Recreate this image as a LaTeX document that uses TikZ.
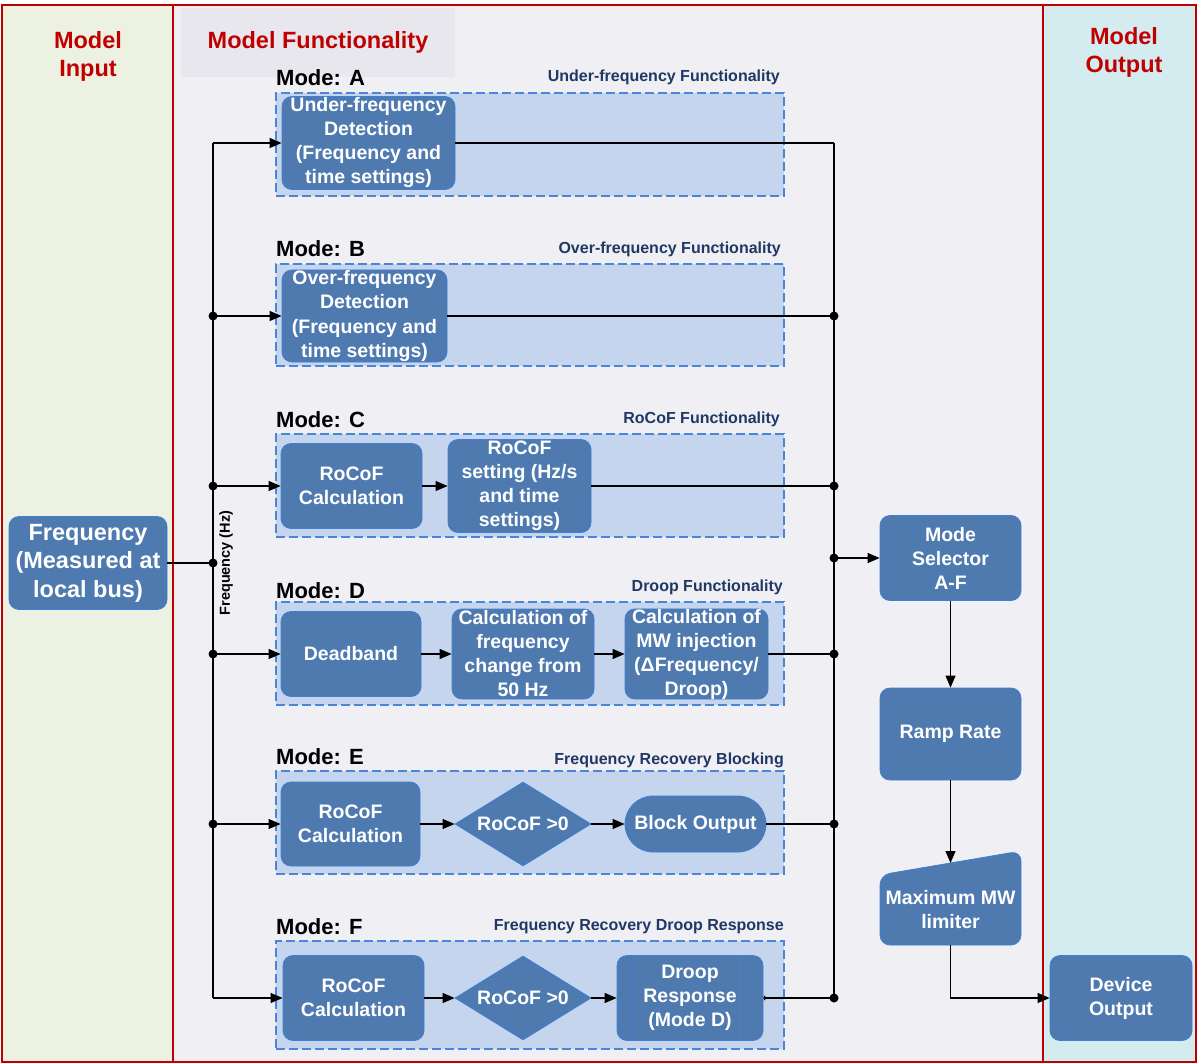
\documentclass[tikz,border=0pt]{standalone}
\usepackage{fontspec}
\setmainfont{Liberation Sans}
\usetikzlibrary{shapes.geometric,arrows.meta}
\definecolor{inbg}{HTML}{EDF1E1}
\definecolor{midbg}{HTML}{F0EFF4}
\definecolor{outbg}{HTML}{D4EBF0}
\definecolor{hdrbg}{HTML}{E8E7ED}
\definecolor{hdrred}{HTML}{C00000}
\definecolor{frame}{HTML}{C00000}
\definecolor{navy}{HTML}{1F3864}
\definecolor{nodefill}{HTML}{4E7AB0}
\definecolor{nodeedge}{HTML}{3F7FD4}
\definecolor{dashblue}{HTML}{4A86D8}
\definecolor{hatch}{HTML}{C6D5EE}
\newcommand\fsz[2]{\fontsize{#1}{#2}\selectfont}
\begin{document}
\begin{tikzpicture}[x=1pt,y=-1pt,
  hdr/.style={text=hdrred, font=\bfseries\fsz{23.5}{28}, align=center, inner sep=0},
  modelbl/.style={font=\bfseries\fsz{22}{26}, inner sep=0, anchor=base west},
  modettl/.style={text=navy, font=\bfseries\fsz{16}{19}, inner sep=0, anchor=base east},
  modebox/.style={draw=dashblue, dash pattern=on 9pt off 4pt, fill=hatch, line width=1.2pt,
    minimum width=508pt, inner sep=0},
  blk/.style={draw=nodeedge, fill=nodefill, rounded corners=10pt, text=white,
    font=\bfseries\fsz{19.5}{24}, align=center, inner sep=0, line width=0.8pt},
  dia/.style={blk, rounded corners=0pt, shape=diamond, shape aspect=1.62,
    minimum width=136pt, minimum height=84pt},
  ln/.style={line width=1.1pt, draw=black},
  arr/.style={ln, -{Triangle[length=12pt,width=10pt]}},
  dot/.style={fill=black},
]
\useasboundingbox (0,0) rectangle (1198,1064);
% backgrounds
\fill[inbg] (2,5) rectangle (173,1062);
\fill[midbg] (173,5) rectangle (1043,1062);
\fill[outbg] (1043,5) rectangle (1196,1062);
\fill[hdrbg] (181,8) rectangle (455,77);
\draw[frame, line width=2pt] (2,5) rectangle (1196,1062);
\draw[frame, line width=2pt] (173,5) -- (173,1062);
\draw[frame, line width=2pt] (1043,5) -- (1043,1062);
% headers
\node[hdr] (hin) at (88,56) {Model\\Input};
\node[hdr] (hfn) at (318,42) {Model Functionality};
\node[hdr] (hout) at (1124,52) {Model\\Output};
% mode boxes
\node[modebox, minimum height=103pt] (mA) at (530,144.5) {};
\node[modebox, minimum height=102pt] (mB) at (530,315) {};
\node[modebox, minimum height=103pt] (mC) at (530,485.5) {};
\node[modebox, minimum height=103pt] (mD) at (530,653.5) {};
\node[modebox, minimum height=103pt] (mE) at (530,822.5) {};
\node[modebox, minimum height=108pt] (mF) at (530,995) {};
% mode labels and titles
\node[modelbl] (lA) at (276,86) {Mode: A};
\node[modettl] (tA) at (780,82) {Under-frequency Functionality};
\node[modelbl] (lB) at (276,257) {Mode: B};
\node[modettl] (tB) at (781,254) {Over-frequency Functionality};
\node[modelbl] (lC) at (276,427) {Mode: C};
\node[modettl] (tC) at (780,423) {RoCoF Functionality};
\node[modelbl] (lD) at (276,598) {Mode: D};
\node[modettl] (tD) at (783,591) {Droop Functionality};
\node[modelbl] (lE) at (276,764) {Mode: E};
\node[modettl] (tE) at (784,764) {Frequency Recovery Blocking};
\node[modelbl] (lF) at (276,934) {Mode: F};
\node[modettl] (tF) at (784,930) {Frequency Recovery Droop Response};
% inner blocks
\node[blk, minimum width=173pt, minimum height=93pt] (A1) at (368.5,143)
  {Under-frequency\\Detection\\(Frequency and\\time settings)};
\node[blk, minimum width=165pt, minimum height=92pt] (B1) at (364.5,316)
  {Over-frequency\\Detection\\(Frequency and\\time settings)};
\node[blk, minimum width=141pt, minimum height=85pt] (C1) at (351.5,486) {RoCoF\\Calculation};
\node[blk, minimum width=143pt, minimum height=93pt] (C2) at (519.5,486)
  {RoCoF\\setting (Hz/s\\and time\\settings)};
\node[blk, minimum width=140pt, minimum height=85pt] (D1) at (351,654) {Deadband};
\node[blk, minimum width=142pt, minimum height=90pt] (D2) at (523,654)
  {Calculation of\\frequency\\change from\\50 Hz};
\node[blk, minimum width=143pt, minimum height=90pt] (D3) at (696.5,654)
  {Calculation of\\MW injection\\(ΔFrequency/\\Droop)};
\node[blk, minimum width=139pt, minimum height=84pt] (E1) at (350.5,824) {RoCoF\\Calculation};
\node[dia] (E2) at (523,824) {RoCoF >0};
\node[blk, rounded corners=28pt, minimum width=141pt, minimum height=56pt] (E3) at (695.5,824) {Block Output};
\node[blk, minimum width=141pt, minimum height=85pt] (F1) at (353.5,998) {RoCoF\\Calculation};
\node[dia] (F2) at (523,998) {RoCoF >0};
\node[blk, minimum width=146pt, minimum height=85pt] (F3) at (690,998) {Droop\\Response\\(Mode D)};
\draw[nodeedge, line width=0.8pt] ([xshift=17pt]F3.north west) -- ([xshift=17pt]F3.south west);
\draw[nodeedge, line width=0.8pt] ([xshift=-23pt]F3.north east) -- ([xshift=-23pt]F3.south east);
% input
\node[blk, font=\bfseries\fsz{23.5}{28.5}, minimum width=158pt, minimum height=93pt] (inp) at (88,563)
  {Frequency\\(Measured at\\local bus)};
\node[rotate=90, font=\bfseries\fsz{14.5}{17}, inner sep=0] (fhz) at (226,563) {Frequency (Hz)};
% right column
\node[blk, minimum width=141pt, minimum height=85pt] (sel) at (950.5,558) {Mode\\Selector\\A-F};
\node[blk, minimum width=141pt, minimum height=92pt] (ramp) at (950.5,734) {Ramp Rate};
\draw[draw=nodeedge, fill=nodefill, line width=0.8pt, rounded corners=10pt]
  (880,875) -- (1021,851) -- (1021,945) -- (880,945) -- cycle;
\node[text=white, font=\bfseries\fsz{19.5}{24}, align=center, inner sep=0] (mw) at (950.5,910) {Maximum MW\\limiter};
\coordinate (mwtop) at (950.5,863);
\coordinate (mwbot) at (950.5,945);
\node[blk, minimum width=142pt, minimum height=85pt] (dev) at (1121,998) {Device\\Output};
% bus coordinates
\coordinate (bA) at (213,143);
\coordinate (bB) at (213,316);
\coordinate (bC) at (213,486);
\coordinate (bI) at (213,563);
\coordinate (bD) at (213,654);
\coordinate (bE) at (213,824);
\coordinate (bF) at (213,998);
\coordinate (rA) at (834,143);
\coordinate (rB) at (834,316);
\coordinate (rC) at (834,486);
\coordinate (rS) at (834,558);
\coordinate (rD) at (834,654);
\coordinate (rE) at (834,824);
\coordinate (rF) at (834,998);
% left bus
\draw[ln] (bA) -- (bF);
\draw[ln] (inp.east |- bI) -- (bI);
\draw[arr] (bA) -- (A1);
\draw[arr] (bB) -- (B1);
\draw[arr] (bC) -- (C1);
\draw[arr] (bD) -- (D1);
\draw[arr] (bE) -- (E1);
\draw[arr] (bF) -- (F1);
\foreach \p in {bB,bC,bI,bD,bE} \fill[dot] (\p) circle (4.5pt);
% inner arrows
\draw[arr] (C1) -- (C2);
\draw[arr] (D1) -- (D2);
\draw[arr] (D2) -- (D3);
\draw[arr] (E1) -- (E2);
\draw[arr] (E2) -- (E3);
\draw[arr] (F1) -- (F2);
\draw[arr] (F2) -- (F3);
% right bus
\draw[ln] (rA) -- (rF);
\draw[ln] (A1) -- (rA);
\draw[ln] (B1) -- (rB);
\draw[ln] (C2) -- (rC);
\draw[ln] (D3) -- (rD);
\draw[ln] (E3) -- (rE);
\draw[ln, -{To[length=2pt,width=5pt]}] (rF) -- (F3);
\foreach \p in {rB,rC,rS,rD,rE,rF} \fill[dot] (\p) circle (4.5pt);
\draw[arr] (rS) -- (sel);
\draw[arr] (sel) -- (ramp);
\draw[arr] (ramp) -- (mwtop);
\draw[arr] (mwbot) |- (dev);
\end{tikzpicture}
\end{document}
